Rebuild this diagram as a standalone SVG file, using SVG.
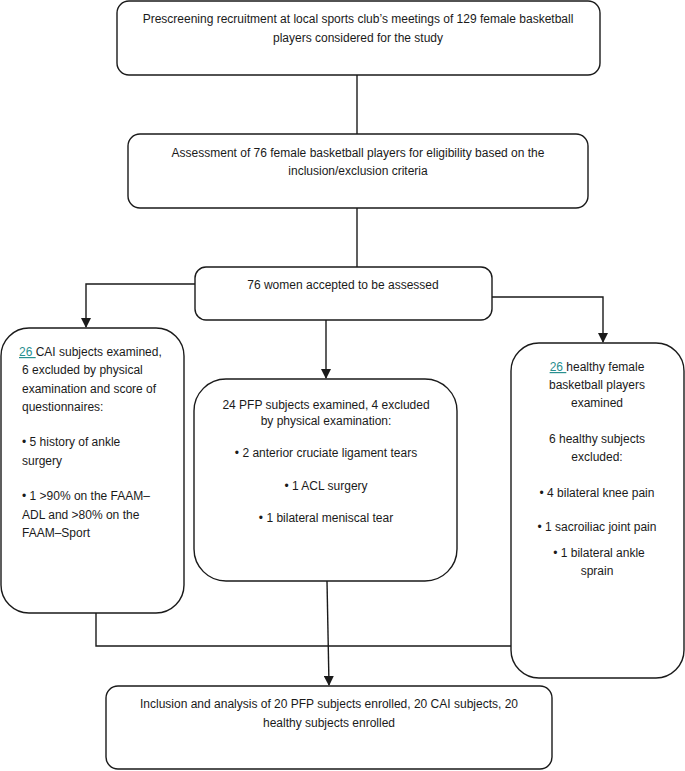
<svg xmlns="http://www.w3.org/2000/svg" width="685" height="771" viewBox="0 0 685 771">
<style>
.box{fill:#fff;stroke:#1a1a1a;stroke-width:1.4}
.ln{fill:none;stroke:#1a1a1a;stroke-width:1.4}
text{font-family:"Liberation Sans",Arial,sans-serif;font-size:12px;fill:#1a1a1a}
.c{text-anchor:middle}
.lk{fill:#2a8f8f;text-decoration:underline}
</style>
<defs>
<marker id="ah" markerWidth="10" markerHeight="10" refX="9" refY="5" orient="auto" markerUnits="userSpaceOnUse">
<path d="M0,0 L10,5 L0,10 z" fill="#1a1a1a"/>
</marker>
</defs>
<g id="connectors">
<path class="ln" d="M357,75 V134"/>
<path class="ln" d="M357,208 V267"/>
<path class="ln" d="M195,284 H86 V327" marker-end="url(#ah)"/>
<path class="ln" d="M326,320 V378" marker-end="url(#ah)"/>
<path class="ln" d="M492,297 H603 V342" marker-end="url(#ah)"/>
<path class="ln" d="M96,613 V646 H511"/>
<path class="ln" d="M327,581 L329,685" marker-end="url(#ah)"/>
</g>
<g id="n1">
<rect class="box" x="117" y="1" width="483" height="74" rx="12"/>
<text class="c" x="358" y="23">Prescreening recruitment at local sports club’s meetings of 129 female basketball</text>
<text class="c" x="358" y="42">players considered for the study</text>
</g>
<g id="n2">
<rect class="box" x="128" y="134" width="460" height="74" rx="12"/>
<text class="c" x="358" y="157">Assessment of 76 female basketball players for eligibility based on the</text>
<text class="c" x="358" y="175">inclusion/exclusion criteria</text>
</g>
<g id="n3">
<rect class="box" x="195" y="267" width="297" height="53" rx="11"/>
<text class="c" x="343" y="289">76 women accepted to be assessed</text>
</g>
<g id="n4">
<rect class="box" x="1" y="328" width="183" height="285" rx="28"/>
<text x="19" y="356"><tspan class="lk">26 </tspan>CAI subjects examined,</text>
<text x="22" y="374">6 excluded by physical</text>
<text x="22" y="393">examination and score of</text>
<text x="22" y="411">questionnaires:</text>
<text x="22" y="446">• 5 history of ankle</text>
<text x="22" y="465">surgery</text>
<text x="22" y="500"> • 1 &gt;90% on the FAAM–</text>
<text x="22" y="519">ADL and &gt;80% on the</text>
<text x="22" y="537">FAAM–Sport</text>
</g>
<g id="n5">
<rect class="box" x="194" y="379" width="263" height="202" rx="32"/>
<text class="c" x="326" y="409">24 PFP subjects examined, 4 excluded</text>
<text class="c" x="326" y="425">by physical examination:</text>
<text class="c" x="326" y="457">• 2 anterior cruciate ligament tears</text>
<text class="c" x="326" y="490">• 1 ACL surgery</text>
<text class="c" x="326" y="522">• 1 bilateral meniscal tear</text>
</g>
<g id="n6">
<rect class="box" x="511" y="343" width="173" height="335" rx="28"/>
<text class="c" x="597" y="371"><tspan class="lk">26 </tspan>healthy female</text>
<text class="c" x="597" y="389">basketball players</text>
<text class="c" x="597" y="407">examined</text>
<text class="c" x="597" y="443">6 healthy subjects</text>
<text class="c" x="597" y="461">excluded:</text>
<text class="c" x="597" y="497">• 4 bilateral knee pain</text>
<text class="c" x="597" y="531">• 1 sacroiliac joint pain</text>
<text class="c" x="599" y="557">• 1 bilateral ankle</text>
<text class="c" x="597" y="575">sprain</text>
</g>
<g id="n7">
<rect class="box" x="106" y="686" width="446" height="83" rx="12"/>
<text class="c" x="329" y="708">Inclusion and analysis of 20 PFP subjects enrolled, 20 CAI subjects, 20</text>
<text class="c" x="329" y="727">healthy subjects enrolled</text>
</g>
</svg>
